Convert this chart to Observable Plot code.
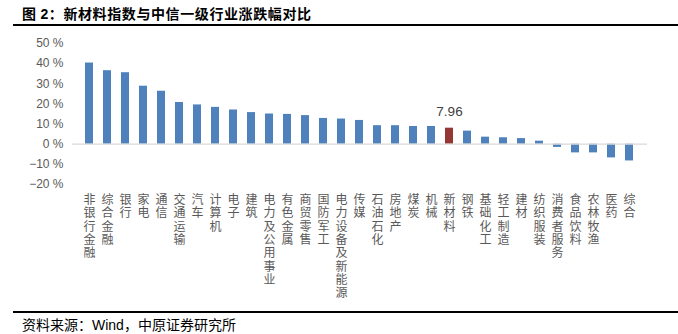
<!DOCTYPE html>
<html>
<head>
<meta charset="utf-8">
<script src="https://cdn.jsdelivr.net/npm/d3@7"></script>
<script src="https://cdn.jsdelivr.net/npm/@observablehq/plot@0.6"></script>
<style>
  body { margin:0; width:678px; height:334px; overflow:hidden; background:#fff; position:relative; }
  #title { position:absolute; left:22px; top:4px; line-height:18px; font-family:"Noto Sans CJK SC", sans-serif; font-weight:bold; font-size:14px; letter-spacing:0.6px; color:#000; white-space:nowrap; }
  #title .num { font-family:"Liberation Sans", Arial, sans-serif; }
  #topline { position:absolute; left:13px; top:23.5px; width:665px; height:2.5px; background:#000; }
  #chart { position:absolute; left:0; top:27px; }
  #botline { position:absolute; left:13px; top:311px; width:665px; height:2px; background:#000; }
  #source { position:absolute; left:22px; top:316px; line-height:16px; font-family:"Noto Sans CJK SC", sans-serif; font-size:14px; color:#000; white-space:nowrap; }
  #source .en { font-family:"Liberation Sans", Arial, sans-serif; }
</style>
</head>
<body>
<div id="title">图 <span class="num">2</span>：新材料指数与中信一级行业涨跌幅对比</div>
<div id="topline"></div>
<div id="chart"></div>
<div id="botline"></div>
<div id="source">资料来源：<span class="en">Wind</span>，中原证券研究所</div>
<script>
const categories = ["非银行金融","综合金融","银行","家电","通信","交通运输","汽车","计算机","电子","建筑","电力及公用事业","有色金属","商贸零售","国防军工","电力设备及新能源","传媒","石油石化","房地产","煤炭","机械","新材料","钢铁","基础化工","轻工制造","建材","纺织服装","消费者服务","食品饮料","农林牧渔","医药","综合"];
const values = [40.3, 36.5, 35.5, 28.8, 26.3, 20.7, 19.5, 18.3, 17.0, 15.7, 15.0, 14.8, 14.2, 12.8, 12.5, 11.8, 9.2, 9.2, 8.8, 8.8, 7.96, 6.5, 3.5, 3.2, 2.8, 1.5, -1.6, -4.3, -4.3, -6.8, -8.3];
const yTicks = [-20, -10, 0, 10, 20, 30, 40, 50];
const highlight = "新材料";
const highlightLabel = "7.96";

const data = categories.map((c, i) => ({name: c, value: values[i]}));

const chart = Plot.plot({
  width: 678,
  height: 283,
  marginLeft: 72,
  marginRight: 31,
  marginTop: 16,
  marginBottom: 126,
  style: {background: "transparent"},
  x: {domain: categories, paddingInner: 0.54, paddingOuter: 0.27, label: null},
  y: {domain: [-20, 50], label: null},
  marks: [
    Plot.barY(data, {x: "name", y: "value", fill: d => d.name === highlight ? "#953735" : "#4F81BD"}),
    Plot.ruleY([0], {stroke: "#d9d9d9", strokeWidth: 1.2}),
    Plot.text(data.filter(d => d.name === highlight), {x: "name", y: "value", text: () => highlightLabel, dy: -17, fontSize: 13.5, fill: "#404040", fontFamily: "Liberation Sans, Arial, sans-serif"}),
    Plot.axisY({ticks: yTicks, tickSize: 0, tickPadding: 9, fontSize: 12, fill: "#595959", fontFamily: "Liberation Sans, Arial, sans-serif", tickFormat: d => (d < 0 ? "\u2212" : "") + Math.abs(d) + " %", label: null}),
    Plot.axisX({tickSize: 0, tickPadding: 10, fontSize: 12, lineHeight: 1.11, fill: "#595959", fontFamily: "Noto Sans CJK SC, sans-serif", tickFormat: d => d.split("").join("\n"), label: null})
  ]
});
document.getElementById("chart").appendChild(chart);
</script>
</body>
</html>
